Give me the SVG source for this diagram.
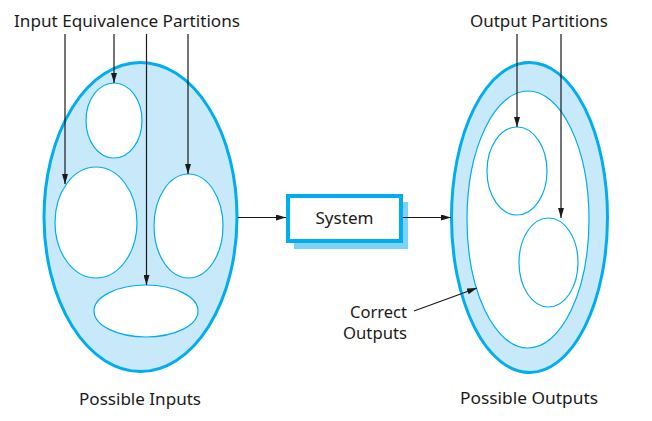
<svg xmlns="http://www.w3.org/2000/svg" width="652" height="421" viewBox="0 0 652 421">
<style>
.big{fill:#c7e9f9;stroke:#00aeef;stroke-width:3}
.part{fill:#fff;stroke:#00aeef;stroke-width:1.2}
.ln{stroke:#1a1a1a;stroke-width:1.2;fill:none}
text{font-family:"Noto Sans","Open Sans","Liberation Sans",sans-serif;font-size:16px;fill:#1a1a1a}
</style>
<defs>
<marker id="ah" viewBox="0 0 10 6" refX="10" refY="3" markerWidth="10" markerHeight="6" markerUnits="userSpaceOnUse" orient="auto">
<path d="M0,0 L10,3 L0,6 Z" fill="#1a1a1a"/>
</marker>
</defs>
<g id="possible-inputs">
<ellipse class="big" cx="140.5" cy="217" rx="96.5" ry="154.5"/>
<text x="140" y="405" text-anchor="middle" textLength="122" lengthAdjust="spacingAndGlyphs">Possible Inputs</text>
</g>
<g id="in-part-top"><ellipse class="part" cx="114" cy="120.5" rx="28" ry="37.5"/></g>
<g id="in-part-left"><ellipse class="part" cx="96" cy="222.5" rx="41" ry="55.5"/></g>
<g id="in-part-right"><ellipse class="part" cx="188.5" cy="226" rx="34.5" ry="52"/></g>
<g id="in-part-bottom"><ellipse class="part" cx="146" cy="311" rx="52" ry="26"/></g>
<g id="system">
<rect x="294" y="202" width="114" height="47" fill="#7dd3f5"/>
<rect x="288" y="196" width="113" height="45" fill="#fff" stroke="#00aeef" stroke-width="4"/>
<text x="344.5" y="224" text-anchor="middle" textLength="58" lengthAdjust="spacingAndGlyphs">System</text>
</g>
<g id="possible-outputs">
<ellipse class="big" cx="529.5" cy="217.5" rx="78" ry="155"/>
<text x="529" y="404" text-anchor="middle" textLength="138" lengthAdjust="spacingAndGlyphs">Possible Outputs</text>
</g>
<g id="correct-outputs">
<ellipse class="part" cx="528" cy="219.5" rx="61" ry="128.5"/>
<text x="407" y="318" text-anchor="end" textLength="57" lengthAdjust="spacingAndGlyphs">Correct</text>
<text x="407" y="339" text-anchor="end" textLength="64" lengthAdjust="spacingAndGlyphs">Outputs</text>
</g>
<g id="out-part-top"><ellipse class="part" cx="517" cy="171" rx="30" ry="44"/></g>
<g id="out-part-bottom"><ellipse class="part" cx="548.5" cy="262.5" rx="29.5" ry="44.5"/></g>
<g id="labels">
<text x="14" y="27" textLength="226" lengthAdjust="spacingAndGlyphs">Input Equivalence Partitions</text>
<text x="470" y="27" textLength="138" lengthAdjust="spacingAndGlyphs">Output Partitions</text>
</g>
<g id="connectors">
<line class="ln" x1="65" y1="34" x2="65" y2="184" marker-end="url(#ah)"/>
<line class="ln" x1="114" y1="34" x2="114" y2="83" marker-end="url(#ah)"/>
<line class="ln" x1="146.5" y1="34" x2="146.5" y2="285" marker-end="url(#ah)"/>
<line class="ln" x1="188" y1="34" x2="188" y2="174" marker-end="url(#ah)"/>
<line class="ln" x1="238" y1="217.5" x2="286" y2="217.5" marker-end="url(#ah)"/>
<line class="ln" x1="403" y1="217.5" x2="451" y2="217.5" marker-end="url(#ah)"/>
<line class="ln" x1="517" y1="34" x2="517" y2="127" marker-end="url(#ah)"/>
<line class="ln" x1="561" y1="34" x2="561" y2="218" marker-end="url(#ah)"/>
<line class="ln" x1="414" y1="311" x2="477" y2="288" marker-end="url(#ah)"/>
</g>
</svg>
